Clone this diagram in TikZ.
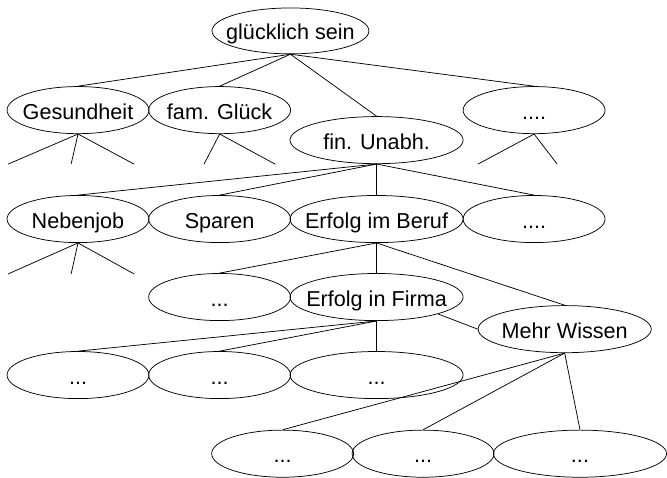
\documentclass[tikz,border=0pt]{standalone}
\usepackage{fontspec}
\setmainfont{Liberation Sans}
\usetikzlibrary{shapes.geometric}
\begin{document}
\begin{tikzpicture}[
    font=\fontsize{20.5}{24}\selectfont,
    line width=0.7pt,
    oval/.style={draw, ellipse, minimum width=4.73cm, minimum height=1.57cm,
                 inner xsep=-0.6cm, inner ysep=0pt,
                 text height=0.6cm, text depth=0cm},
    wide/.style={minimum width=5.77cm},
]
\useasboundingbox (0,0) rectangle (22.23,-15.9);

\node[oval, minimum width=5.23cm, minimum height=1.53cm] (root) at (9.68,-1.03) {gl\"ucklich sein};

\node[oval]       (gesund) at (2.6,-3.67)    {Gesundheit};
\node[oval]       (famgl)  at (7.32,-3.67)   {fam. Gl\"uck};
\node[oval, wide] (finanz) at (12.55,-4.67)  {fin. Unabh.};
\node[oval]       (rest1)  at (17.8,-3.67)   {....};

\node[oval]       (neben)  at (2.6,-7.3)     {Nebenjob};
\node[oval]       (sparen) at (7.32,-7.3)    {Sparen};
\node[oval, wide] (beruf)  at (12.55,-7.3)   {Erfolg im Beruf};
\node[oval]       (rest2)  at (17.8,-7.3)    {....};

\node[oval]       (rest3)  at (7.32,-9.9)    {...};
\node[oval, wide] (firma)  at (12.55,-9.9)   {Erfolg in Firma};
\node[oval, wide] (wissen) at (18.82,-10.97) {Mehr Wissen};

\node[oval]       (rest4)  at (2.6,-12.5)    {...};
\node[oval]       (rest5)  at (7.32,-12.5)   {...};
\node[oval, wide] (rest6)  at (12.55,-12.5)  {...};

\node[oval]       (rest7)  at (9.42,-15.12)  {...};
\node[oval]       (rest8)  at (14.1,-15.12)  {...};
\node[oval, wide] (rest9)  at (19.33,-15.12) {...};

\coordinate (gs1) at (0.27,-5.47);
\coordinate (gs2) at (2.37,-5.47);
\coordinate (gs3) at (4.47,-5.47);
\coordinate (fg1) at (6.8,-5.47);
\coordinate (fg2) at (9.17,-5.47);
\coordinate (rs1) at (15.93,-5.47);
\coordinate (rs2) at (18.57,-5.47);
\coordinate (nb1) at (0.27,-9.13);
\coordinate (nb2) at (2.37,-9.13);
\coordinate (nb3) at (4.47,-9.13);

\foreach \n in {gesund,famgl,finanz,rest1} {
    \draw (root.south) -- (\n.north);
}
\foreach \n in {neben,sparen,beruf,rest2} {
    \draw (finanz.south) -- (\n.north);
}
\foreach \n in {rest3,firma,wissen} {
    \draw (beruf.south) -- (\n.north);
}
\foreach \n in {rest4,rest5,rest6} {
    \draw (firma.south) -- (\n.north);
}
\foreach \n in {rest7,rest8,rest9} {
    \draw (wissen.south) -- (\n.north);
}
\draw (firma.south east) -- (wissen.west);

\foreach \c in {gs1,gs2,gs3} \draw (gesund.south) -- (\c);
\foreach \c in {fg1,fg2} \draw (famgl.south) -- (\c);
\foreach \c in {rs1,rs2} \draw (rest1.south) -- (\c);
\foreach \c in {nb1,nb2,nb3} \draw (neben.south) -- (\c);
\end{tikzpicture}
\end{document}
